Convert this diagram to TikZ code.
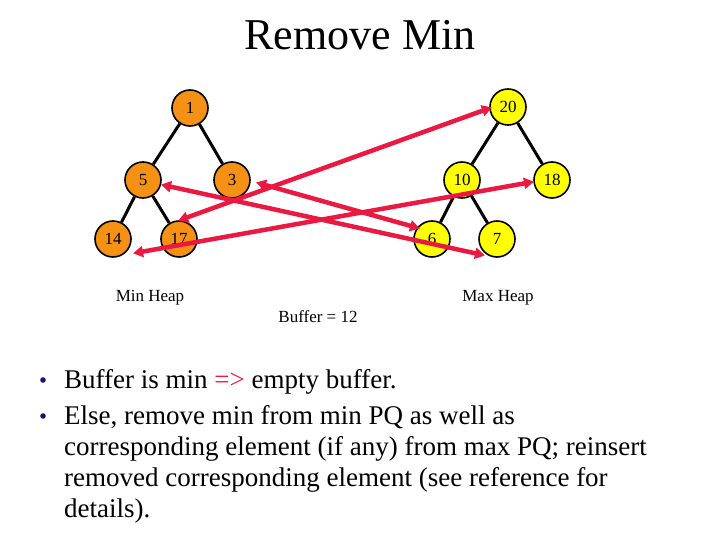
\documentclass[tikz,border=0pt]{standalone}
\usepackage{fontspec}
\setmainfont{Liberation Serif}
\usetikzlibrary{arrows.meta}
\definecolor{org}{RGB}{245,145,20}
\definecolor{yel}{RGB}{255,255,0}
\definecolor{rd}{RGB}{235,25,65}
\definecolor{nv}{RGB}{20,20,110}
\begin{document}
\begin{tikzpicture}[x=1pt,y=-1pt,
  hn/.style={circle,draw=black,line width=1.6pt,minimum size=36pt,inner sep=0pt,font=\fontsize{17}{17}\selectfont},
  mn/.style={hn,fill=org},
  xn/.style={hn,fill=yel},
  ed/.style={line width=3pt,black},
  ar/.style={line width=4.5pt,rd,{Triangle[length=10pt,width=11pt]}-{Triangle[length=10pt,width=11pt]},shorten <=-2pt,shorten >=-2pt},
  lb/.style={font=\fontsize{17}{18}\selectfont},
  bt/.style={font=\fontsize{27}{31}\selectfont,anchor=base west,align=left,inner sep=0pt}]
\useasboundingbox (0,0) rectangle (720,540);
\node[font=\fontsize{44}{44}\selectfont] (title) at (360,35) {Remove Min};
\node[mn] (n1) at (190,108) {1};
\node[mn] (n5) at (143,180) {5};
\node[mn] (n3) at (232,180) {3};
\node[mn] (n14) at (113,239) {14};
\node[mn] (n17) at (179,239) {17};
\node[xn] (n20) at (508,107) {20};
\node[xn] (n10) at (462,180) {10};
\node[xn] (n18) at (552,180) {18};
\node[xn] (n6) at (432,239) {6};
\node[xn] (n7) at (497,239) {7};
\draw[ed] (n1)--(n5); \draw[ed] (n1)--(n3);
\draw[ed] (n5)--(n14); \draw[ed] (n5)--(n17);
\draw[ed] (n20)--(n10); \draw[ed] (n20)--(n18);
\draw[ed] (n10)--(n6); \draw[ed] (n10)--(n7);
\coordinate (a1) at (180,220); \coordinate (a2) at (490,108);
\coordinate (b1) at (163,185); \coordinate (b2) at (483,255);
\coordinate (c1) at (258,183); \coordinate (c2) at (418,228);
\coordinate (d1) at (135,253); \coordinate (d2) at (532,182);
\draw[ar] (a1)--(a2);
\draw[ar] (b1)--(b2);
\draw[ar] (c1)--(c2);
\draw[ar] (d1)--(d2);
\node[lb] (mh) at (150,298) {Min Heap};
\node[lb] (bf) at (318,317) {Buffer = 12};
\node[lb] (xh) at (498,298) {Max Heap};
\node[bt] (t1) at (64,388) {Buffer is min {\color{rd}=>} empty buffer.};
\node[bt] (t2) at (64,424) {Else, remove min from min PQ as well as};
\node[bt] (t3) at (64,455) {corresponding element (if any) from max PQ; reinsert};
\node[bt] (t4) at (64,486) {removed corresponding element (see reference for};
\node[bt] (t5) at (64,517) {details).};
\fill[nv] (43,380) circle (2.8pt);
\fill[nv] (43,416) circle (2.8pt);
\end{tikzpicture}
\end{document}
